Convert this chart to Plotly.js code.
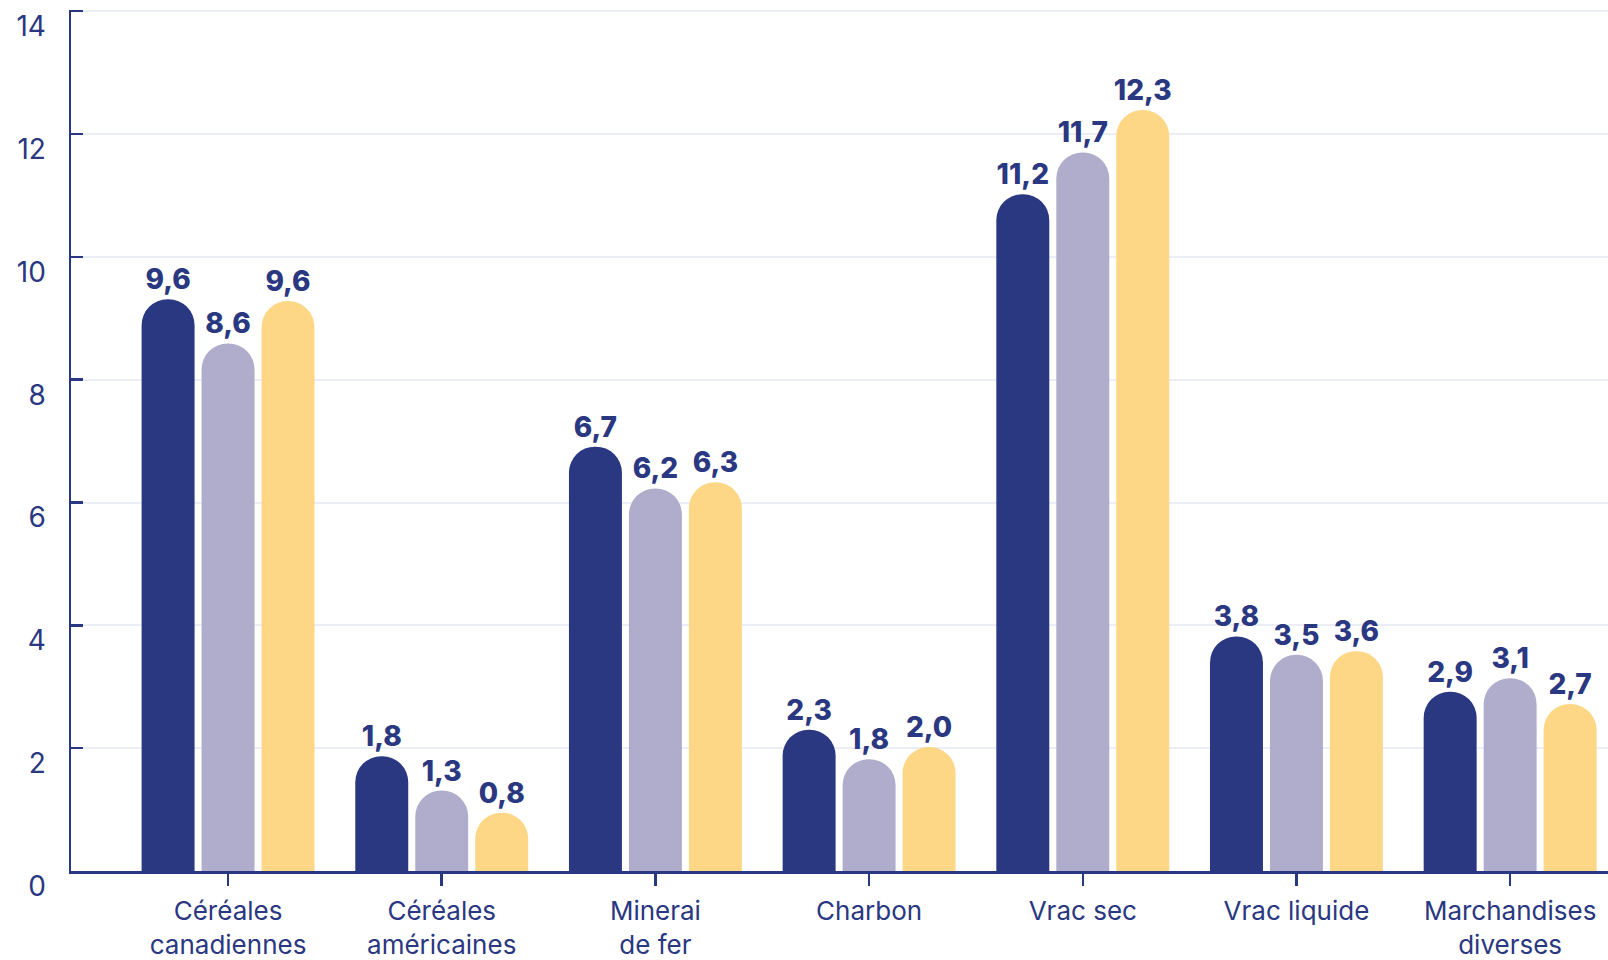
<!DOCTYPE html>
<html>
<head>
<meta charset="utf-8">
<script src="https://cdn.plot.ly/plotly-3.0.1.min.js"></script>
<style>html,body{margin:0;padding:0;background:#fff;}#chart{width:1608px;height:960px;}</style>
</head>
<body>
<div id="chart"></div>
<script>
const categories = ["Céréales<br>canadiennes", "Céréales<br>américaines", "Minerai<br>de fer", "Charbon", "Vrac sec", "Vrac liquide", "Marchandises<br>diverses"];

const series1Values = [9.31, 1.87, 6.91, 2.30, 11.02, 3.82, 2.92];
const series2Values = [8.59, 1.31, 6.23, 1.82, 11.70, 3.52, 3.14];
const series3Values = [9.28, 0.95, 6.33, 2.02, 12.39, 3.58, 2.72];

const series1Labels = ["9,6", "1,8", "6,7", "2,3", "11,2", "3,8", "2,9"];
const series2Labels = ["8,6", "1,3", "6,2", "1,8", "11,7", "3,5", "3,1"];
const series3Labels = ["9,6", "0,8", "6,3", "2,0", "12,3", "3,6", "2,7"];

const yTickValues = [0, 2, 4, 6, 8, 10, 12, 14];

const NAVY = "#2a3781";
const FONT = "Inter, 'Open Sans', sans-serif";

function barTrace(values, labels, color) {
  return {
    type: "bar",
    x: categories,
    y: values,
    text: labels,
    textposition: "outside",
    constraintext: "none",
    cliponaxis: false,
    textfont: {family: FONT, size: 28, color: NAVY, weight: 800},
    marker: {color: color, cornerradius: "50%", line: {width: 0}},
    hoverinfo: "skip",
    showlegend: false
  };
}

const data = [
  barTrace(series1Values, series1Labels, "#2a3781"),
  barTrace(series2Values, series2Labels, "#afadcb"),
  barTrace(series3Values, series3Labels, "#fdd786")
];

const layout = {
  width: 1608,
  height: 960,
  margin: {l: 71, r: 0, t: 10, b: 89, pad: 0},
  paper_bgcolor: "#ffffff",
  plot_bgcolor: "#ffffff",
  barmode: "group",
  bargap: 0.158,
  bargroupgap: 0.117,
  barcornerradius: "50%",
  showlegend: false,
  font: {family: FONT, color: NAVY},
  xaxis: {
    range: [-0.735, 6.458],
    showline: true,
    linecolor: NAVY,
    linewidth: 2.5,
    ticks: "outside",
    ticklen: 12,
    tickwidth: 2.5,
    tickcolor: NAVY,
    showgrid: false,
    zeroline: false,
    tickfont: {family: FONT, size: 26, color: NAVY},
    ticklabelstandoff: 3,
    fixedrange: true
  },
  yaxis: {
    range: [0, 14.02],
    tickvals: yTickValues,
    ticktext: yTickValues.map(String),
    showline: true,
    linecolor: NAVY,
    linewidth: 2.5,
    ticks: "inside",
    ticklen: 12,
    tickwidth: 2.5,
    tickcolor: NAVY,
    showgrid: true,
    gridcolor: "#eceef6",
    gridwidth: 2,
    zeroline: false,
    tickfont: {family: FONT, size: 28, color: NAVY},
    ticklabelstandoff: 17,
    ticklabelshift: 15,
    fixedrange: true
  },
  hovermode: false
};

Plotly.newPlot("chart", data, layout, {displayModeBar: false, staticPlot: true});
</script>
</body>
</html>
